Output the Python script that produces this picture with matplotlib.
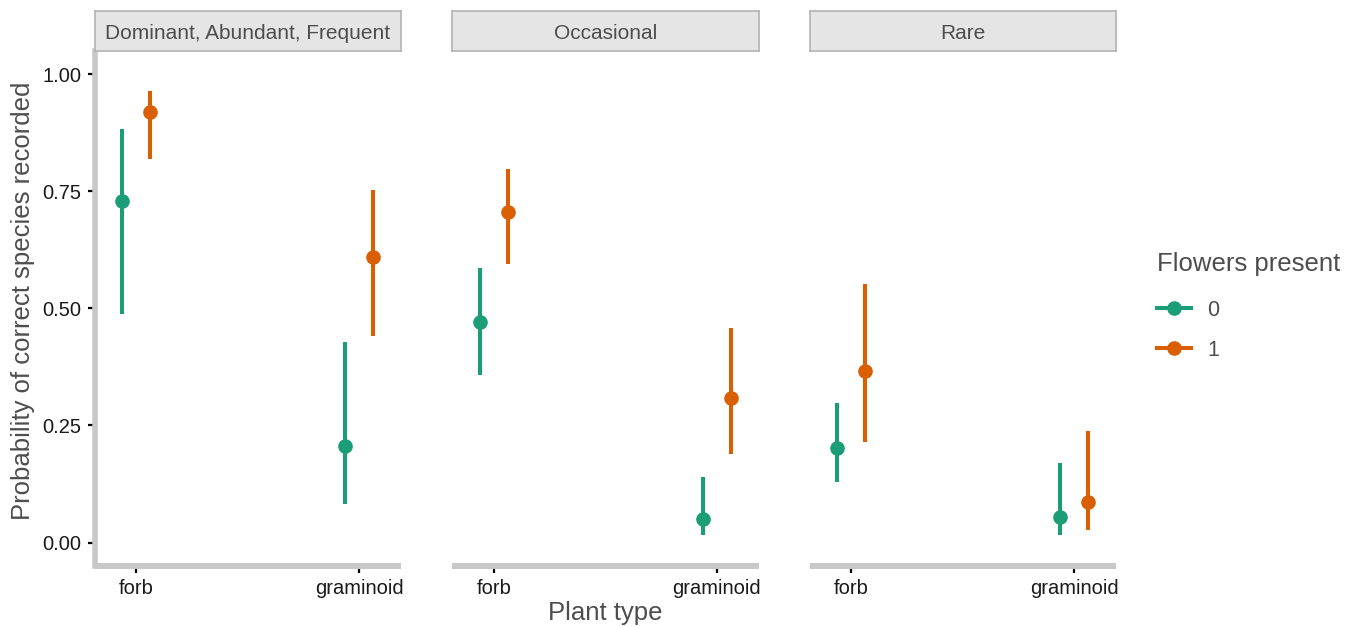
import matplotlib
matplotlib.use("Agg")
import matplotlib.pyplot as plt
from matplotlib.lines import Line2D
import numpy as np

plt.rcParams['font.family'] = ['Liberation Sans', 'DejaVu Sans']

# ---- data ----
abundance = ["Dominant, Abundant, Frequent", "Occasional", "Rare"]
plant_types = ["forb", "graminoid"]
flower_levels = ["0", "1"]
# estimates per panel: [forb, graminoid]
est_0 = [[0.729, 0.207], [0.471, 0.050], [0.201, 0.054]]
lo_0 = [[0.488, 0.083], [0.357, 0.017], [0.129, 0.017]]
hi_0 = [[0.883, 0.429], [0.587, 0.141], [0.298, 0.170]]
est_1 = [[0.919, 0.610], [0.706, 0.308], [0.366, 0.086]]
lo_1 = [[0.818, 0.441], [0.594, 0.190], [0.214, 0.027]]
hi_1 = [[0.965, 0.753], [0.798, 0.457], [0.553, 0.238]]
yticks = [0.0, 0.25, 0.5, 0.75, 1.0]
ytick_labels = ["0.00", "0.25", "0.50", "0.75", "1.00"]

colors = ["#1B9E77", "#D95F02"]
W, H = 1357, 627
fig = plt.figure(figsize=(W / 100, H / 100), dpi=100)

panel_lefts = [94.5, 452.0, 809.5]
panel_w = 306.5
panel_top, panel_bot = 50.7, 566.0
strip_top = 10.7
dodge = 0.0625
spine_col = "#C8C8C8"

series = [(est_0, lo_0, hi_0), (est_1, lo_1, hi_1)]
for i, name in enumerate(abundance):
    ax = fig.add_axes([panel_lefts[i] / W, (H - panel_bot) / H,
                       panel_w / W, (panel_bot - panel_top) / H])
    x = np.arange(1, len(plant_types) + 1)
    for k, (est, lo, hi) in enumerate(series):
        e = np.array(est[i]); l = np.array(lo[i]); h = np.array(hi[i])
        xx = x + (k - 0.5) * 2 * dodge
        ax.errorbar(xx, e, yerr=[e - l, h - e], fmt='o', color=colors[k],
                    ecolor=colors[k], elinewidth=2.9, markersize=9.5,
                    capsize=0, zorder=3)
    ax.set_xlim(0.8125, 2.1875)
    ax.set_ylim(-0.05, 1.05)
    ax.set_xticks(x)
    ax.set_xticklabels(plant_types)
    ax.set_yticks(yticks)
    ax.set_yticklabels(ytick_labels)
    for s in ["top", "right"]:
        ax.spines[s].set_visible(False)
    ax.spines["bottom"].set_color(spine_col)
    ax.spines["bottom"].set_linewidth(4.3)
    ax.spines["bottom"].set_capstyle('butt')
    ax.spines["left"].set_color(spine_col)
    ax.spines["left"].set_linewidth(4.0)
    ax.spines["left"].set_capstyle('projecting')
    ax.tick_params(axis='both', length=5.2, width=1.6, color='black',
                   labelsize=14.5, labelcolor='#1a1a1a', pad=4)
    if i > 0:
        ax.spines["left"].set_visible(False)
        ax.tick_params(axis='y', left=False, labelleft=False)
    ax.set_facecolor('white')

    # strip
    sax = fig.add_axes([panel_lefts[i] / W, (H - panel_top) / H,
                        panel_w / W, (panel_top - strip_top) / H])
    sax.set_facecolor("#E5E5E5")
    for s in sax.spines.values():
        s.set_color("#B3B3B3")
        s.set_linewidth(1.2)
    sax.set_xticks([]); sax.set_yticks([])
    sax.text(0.5, (panel_top - 39.3) / (panel_top - strip_top), name,
             transform=sax.transAxes, ha='center', va='baseline',
             fontsize=15, color='#4D4D4D')

fig.text(23 / W, (H - 301) / H, "Probability of correct species recorded",
         rotation=90, ha='center', va='center', fontsize=18.5, color='#4D4D4D')
fig.text(605.5 / W, (H - 620) / H, "Plant type", ha='center', va='baseline',
         fontsize=18.5, color='#4D4D4D')

handles = [Line2D([0], [0], color=c, lw=2.9, marker='o', markersize=9.5) for c in colors]
leg = fig.legend(handles, flower_levels, title="Flowers present",
                 loc='upper left', bbox_to_anchor=(1157 / W, (H - 252) / H),
                 frameon=False, fontsize=15.5, title_fontsize=18.5,
                 handlelength=1.6, handletextpad=0.75, labelspacing=0.9,
                 alignment='left', borderpad=0, borderaxespad=0)
try:
    leg._legend_box.sep = 0.9 * 15.5 + 3.0
except Exception:
    pass
leg.get_title().set_color('#4D4D4D')
for t in leg.get_texts():
    t.set_color('#4D4D4D')

fig.savefig("out.png", dpi=100, facecolor='white')
